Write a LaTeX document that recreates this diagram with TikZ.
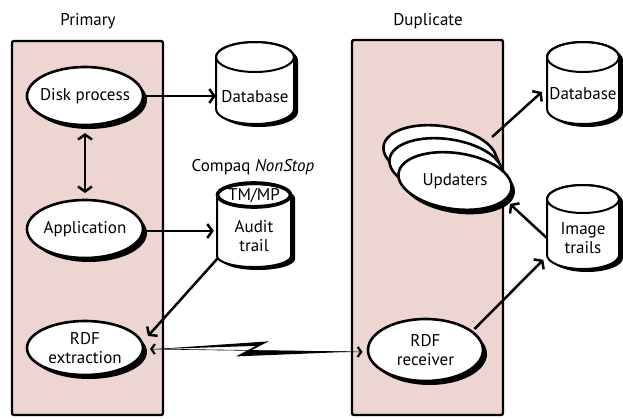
\documentclass[tikz,border=0pt]{standalone}
\usepackage{fontspec}
\setmainfont{PT Sans}
\usetikzlibrary{arrows.meta}

\definecolor{hostfill}{RGB}{237,214,210}

% cylinder: centre x, top y, bottom y, x radius, cap radius
\newcommand\drum[5]{%
  \fill[black,shift={(4,3)}] ({#1-#4},{#2+#5}) -- ({#1-#4},{#3-#5})
    arc[start angle=180,end angle=0,x radius=#4,y radius=#5]
    -- ({#1+#4},{#2+#5}) arc[start angle=0,end angle=-180,x radius=#4,y radius=#5] -- cycle;
  \filldraw[fill=white,line width=2pt] ({#1-#4},{#2+#5}) -- ({#1-#4},{#3-#5})
    arc[start angle=180,end angle=0,x radius=#4,y radius=#5]
    -- ({#1+#4},{#2+#5}) arc[start angle=0,end angle=-180,x radius=#4,y radius=#5] -- cycle;
  \draw[line width=2pt] (#1,{#2+#5}) ellipse[x radius=#4,y radius=#5];
}

% process bubble with its shadow: centre x, centre y, x radius, y radius, tilt
\newcommand\blob[5]{%
  \begin{scope}[shift={(#1,#2)},rotate=#5]
    \fill[black] (4pt,-4pt) ellipse[x radius=#3pt,y radius=#4pt];
    \filldraw[fill=white,line width=2.6pt] (0pt,0pt) ellipse[x radius=#3pt,y radius=#4pt];
  \end{scope}
}

\begin{document}
\begin{tikzpicture}[x=1pt,y=-1pt,
  every node/.style={font=\fontsize{17}{18.5}\selectfont},
  host/.style={draw,line width=2.4pt,fill=hostfill,rounded corners=2pt},
  caption/.style={inner sep=0pt,align=center},
  store/.style={inner sep=0pt,minimum width=72pt,minimum height=40pt,align=center},
  conn/.style={line width=2.5pt,-{Straight Barb[length=5pt,width=14pt]}},
  conn2/.style={line width=2.5pt,{Straight Barb[length=5pt,width=14pt]}-{Straight Barb[length=5pt,width=14pt]}},
  link/.style={line width=0.6pt,
    {Straight Barb[length=3.5pt,width=10pt,line width=2.2pt]}-{Straight Barb[length=3.5pt,width=10pt,line width=2.2pt]}}
]
\useasboundingbox (0,0) rectangle (623,418);

% the two hosts
\node (primary) at (88,21) {Primary};
\node (duplicate) at (428,21) {Duplicate};
\draw[host] (12,41) rectangle (163,415);
\draw[host] (352,40) rectangle (503,415);

% disk volumes and trails
\drum{255}{42}{124}{39}{15}
\drum{254}{184}{267}{37}{11}
\draw[line width=3.6pt] (254,195) ellipse[x radius=36.5,y radius=12];
\drum{583}{42}{124}{36}{15}
\drum{583}{185}{269}{36}{14}

\node (brand) at (253,167) {Compaq \textit{NonStop}};
\node[store] (db1) at (255,97) {Database};
\node[inner sep=0pt] (tmmp) at (254,196) {TM/MP};
\node[store,minimum height=44pt] (audit) at (254,236) {Audit\\trail};
\node[store] (db2) at (583,94) {Database};
\node[store,minimum height=36pt] (img) at (583,238) {Image\\trails};

% processes
\blob{85}{96}{58}{29}{0}
\blob{85}{229}{58}{29}{0}
\blob{85}{348}{58}{27}{0}
\blob{425.5}{350}{57.5}{31}{0}
\node[caption] (disk) at (85,96) {Disk process};
\node[caption] (app) at (85,229) {Application};
\node[caption] (rdfx) at (85,348) {RDF\\extraction};
\node[caption] (rdfr) at (425.5,350) {RDF\\receiver};

% updater processes, stacked
\blob{440}{154}{57}{28}{-8}
\blob{446}{167}{57}{28}{-8}
\blob{455}{181}{57}{28}{-8}
\coordinate (upd3) at (440,154);
\node[caption] (upd) at (455,181) {Updaters};

% connectors
\draw[conn,shorten >=3pt] ([xshift=59pt]disk.center) -- (disk.center -| db1.west);
\draw[conn2] ([yshift=-37pt]disk.center) -- ([yshift=36pt]app.center);
\draw[conn,shorten >=4pt] ([shift={(59pt,-2pt)}]app.center) -- ([yshift=-2pt]app.center -| audit.west);
\draw[conn] (audit.south west) -- ([shift={(63pt,12pt)}]rdfx.center);
\draw[conn,shorten >=5pt] ([shift={(49pt,21pt)}]rdfr.center) -- (img.south west);
\draw[conn] ([shift={(52pt,17pt)}]upd3) -- ([shift={(-5pt,2pt)}]db2.west);
\draw[conn] (img.west) -- ([shift={(55pt,-23pt)}]upd.center);

% communications line between the hosts
\draw[link] ([shift={(65pt,-1pt)}]rdfx.center) -- ([shift={(-63pt,-2pt)}]rdfr.center);
\fill (152,349.3) -- (269,341.3) -- (251,350.4) -- (355,351.6)
  -- (236,356.4) -- (256,345.9) -- cycle;
\end{tikzpicture}
\end{document}
